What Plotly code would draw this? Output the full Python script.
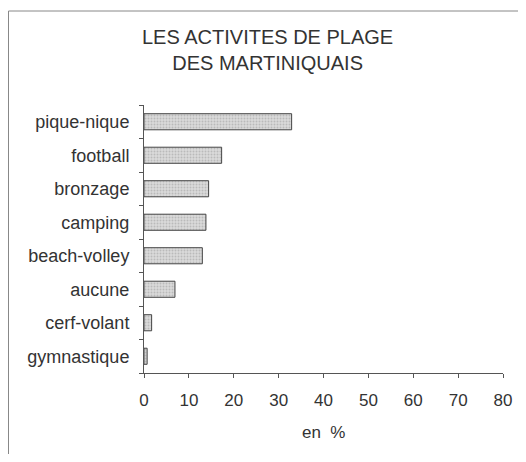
import plotly.graph_objects as go

categories = ["pique-nique", "football", "bronzage", "camping", "beach-volley",
              "aucune", "cerf-volant", "gymnastique"]
values = [32.9, 17.3, 14.4, 13.8, 13.0, 6.9, 1.7, 0.7]
x_ticks = [0, 10, 20, 30, 40, 50, 60, 70, 80]
title_lines = ["LES ACTIVITES DE PLAGE", "DES MARTINIQUAIS"]
x_title = "en  %"

FONT = "Liberation Sans, Arial, sans-serif"
TXT = "#333333"
AX = "#555555"
BORDER = "#888888"

# the page body has an 8px margin, so the figure is drawn 8px in from the window edge
fig = go.Figure(go.Bar(
    x=values, y=categories, orientation="h", width=0.48,
    marker=dict(color="#d6d6d6",
                line=dict(color="#444444", width=1),
                pattern=dict(shape=".", fgcolor="#9a9a9a", bgcolor="#dadada",
                             size=3, solidity=0.35)),
))

left = (8.5 - 144) / 359
top = (373 - 11) / 268
fig.update_layout(
    width=510, height=446,
    margin=dict(l=136, r=15, t=97, b=81, autoexpand=False),
    paper_bgcolor="white", plot_bgcolor="white",
    showlegend=False,
    font=dict(family=FONT, color=TXT, size=17),
    xaxis=dict(range=[0, 80], tickvals=x_ticks, showgrid=False, zeroline=False,
               automargin=False,
               showline=True, linecolor=AX, linewidth=1,
               ticks="outside", ticklen=4, tickcolor=AX,
               tickfont=dict(size=17, color=TXT), ticklabelstandoff=8),
    yaxis=dict(categoryorder="array", categoryarray=categories[::-1],
               showgrid=False, zeroline=False, automargin=False,
               showline=True, linecolor=AX, linewidth=1,
               ticks="outside", ticklen=4, tickcolor=AX, tickson="boundaries",
               tickfont=dict(size=18, color=TXT), ticklabelstandoff=10),
    shapes=[
        dict(type="line", xref="paper", yref="paper",
             x0=left, x1=(520 - 144) / 359, y0=top, y1=top,
             line=dict(color=BORDER, width=1)),
        dict(type="line", xref="paper", yref="paper",
             x0=left, x1=left, y0=top, y1=(373 - 460) / 268,
             line=dict(color=BORDER, width=1)),
    ],
    annotations=[
        dict(text="<br>".join(title_lines), xref="paper", yref="paper",
             x=(267 - 144) / 359, y=(373 - 50.5) / 268,
             xanchor="center", yanchor="middle", showarrow=False,
             font=dict(size=20, color=TXT, family=FONT)),
        dict(text=x_title, xref="paper", yref="paper",
             x=0.5, y=(373 - 432) / 268, xanchor="center", yanchor="middle",
             showarrow=False, font=dict(size=17, color=TXT, family=FONT)),
    ],
)

fig.write_html("out.html")
